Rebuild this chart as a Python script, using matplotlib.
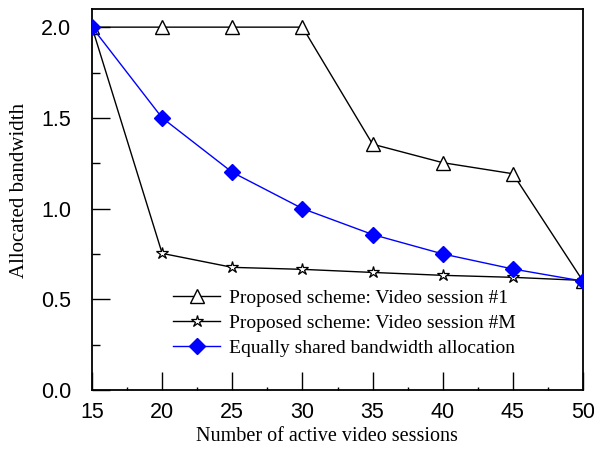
import matplotlib
matplotlib.use("Agg")
import matplotlib.pyplot as plt
import matplotlib.transforms as mtransforms
from matplotlib.ticker import MultipleLocator

sessions = [15, 20, 25, 30, 35, 40, 45, 50]
session1 = [2.0, 2.0, 2.0, 2.0, 1.355, 1.253, 1.192, 0.60]
sessionM = [2.0, 0.753, 0.676, 0.665, 0.648, 0.632, 0.621, 0.604]
equal_share = [2.0, 1.5, 1.2, 1.0, 0.857, 0.75, 0.667, 0.60]
labels = ["Proposed scheme: Video session #1",
          "Proposed scheme: Video session #M",
          "Equally shared bandwidth allocation"]

fig = plt.figure(figsize=(5.94, 4.51), dpi=100)
ax = fig.add_axes([92/594, 1-390/451, (583-92)/594, (390-9)/451])

ax.plot(sessions, session1, color='black', lw=1.0, marker='^', ms=10,
        mfc='white', mec='black', mew=1.0, label=labels[0], zorder=3)
ax.plot(sessions, sessionM, color='black', lw=1.0, marker='*', ms=9,
        mfc='white', mec='black', mew=0.9, label=labels[1], zorder=3)
ax.plot(sessions, equal_share, color='blue', lw=1.0, marker='D', ms=8,
        mfc='blue', mec='blue', label=labels[2], zorder=4)

ax.set_xlim(15, 50)
ax.set_ylim(0, 2.1)
ax.xaxis.set_major_locator(MultipleLocator(5))
ax.xaxis.set_minor_locator(MultipleLocator(2.5))
ax.yaxis.set_minor_locator(MultipleLocator(0.25))
ax.set_yticks([0.0, 0.5, 1.0, 1.5, 2.0])
ax.set_yticklabels(["0.0", "0.5", "1.0", "1.5", "2.0"])
ax.tick_params(which='major', direction='in', length=13, width=1.0,
               labelsize=15.5)
ax.tick_params(axis='x', which='major', pad=9)
ax.tick_params(axis='y', which='major', pad=15)
ax.tick_params(which='minor', direction='in', length=6, width=1.0)
ax.tick_params(axis='x', which='minor', length=2)
for lbl in ax.get_xticklabels() + ax.get_yticklabels():
    lbl.set_fontfamily('Liberation Sans')
# nudge the last x tick label slightly left so it stays inside the figure
shift = mtransforms.ScaledTranslation(-3/72, 0, fig.dpi_scale_trans)
last = ax.get_xticklabels()[-1]
last.set_transform(last.get_transform() + shift)
for s in ax.spines.values():
    s.set_linewidth(1.3)

ax.set_xlabel("Number of active video sessions", family='Liberation Serif',
              fontsize=14.5)
ax.xaxis.set_label_coords((327-92)/491, (390-427)/381)
ax.set_ylabel("Allocated bandwidth", family='Liberation Serif',
              fontsize=15)
ax.yaxis.set_label_coords(-0.128, (390-190)/381)

ax.legend(loc='lower left', bbox_to_anchor=(0.13, 0.04), frameon=False,
          prop={'family': 'Liberation Serif', 'size': 14},
          handlelength=2.4, handletextpad=0.45, labelspacing=0.38)

fig.savefig("out.png", dpi=100)
